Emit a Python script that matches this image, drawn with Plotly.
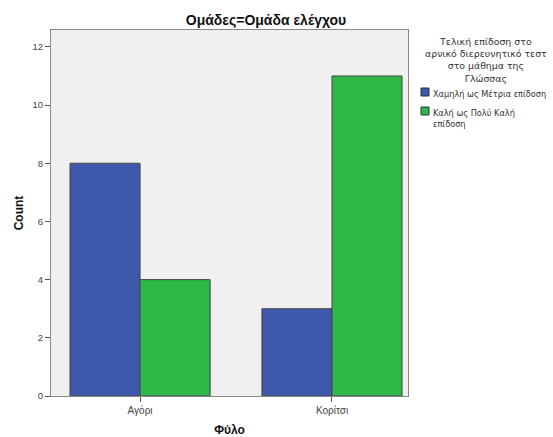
import plotly.graph_objects as go

categories = ["Αγόρι", "Κορίτσι"]
series_names = ["Χαμηλή ως Μέτρια επίδοση", "Καλή ως Πολύ Καλή<br>επίδοση"]
low_values = [8, 3]
high_values = [4, 11]
colors = ["#3e58ac", "#2eb848"]
y_ticks = [0, 2, 4, 6, 8, 10, 12]
legend_title = "Τελική επίδοση στο<br>αρνικό διερευνητικό τεστ<br>στο μάθημα της<br>Γλώσσας"

W, H = 553, 437
L, R, T, B = 51, 145, 30, 41
PW, PH = W - L - R, H - T - B


def px(x):
    return (x - L) / PW


def py(y):
    return (H - B - y) / PH


fig = go.Figure()
for name, vals, col in zip(series_names, [low_values, high_values], colors):
    fig.add_trace(go.Bar(
        x=categories, y=vals, name=name,
        marker=dict(color=col, line=dict(color="#444444", width=1)),
    ))

font_family = "Liberation Sans, Arial, sans-serif"
fig.update_layout(
    width=W, height=H,
    margin=dict(l=L, r=R, t=T, b=B, autoexpand=False),
    paper_bgcolor="white", plot_bgcolor="#f0f0f0",
    barmode="group", bargap=0.27, bargroupgap=0,
    font=dict(family=font_family, size=9, color="#444444"),
    title=dict(text="<b>Ομάδες=Ομάδα ελέγχου</b>", x=266 / W, xanchor="center",
               y=1 - 20 / H, yanchor="middle", font=dict(size=14, color="#111111")),
    showlegend=False,
    xaxis=dict(range=[-0.464, 1.396], showline=True, linecolor="#888888", linewidth=1,
               mirror=True, ticks="outside", ticklen=5, tickcolor="#555555",
               automargin=False,
               tickfont=dict(size=10, color="#444444"),
               title=dict(text="<b>Φύλο</b>", font=dict(size=12, color="#111111"), standoff=10)),
    yaxis=dict(range=[0, 12.58], tickvals=y_ticks, showline=True, linecolor="#888888",
               linewidth=1, mirror=True, showgrid=False, zeroline=False,
               ticks="outside", ticklen=5, tickcolor="#555555", automargin=False,
               tickfont=dict(size=9.5, color="#444444"),
               title=dict(text="<b>Count</b>", font=dict(size=12, color="#111111"), standoff=6)),
)

# legend title
fig.add_annotation(
    text=legend_title, xref="paper", yref="paper", x=px(486), y=py(34),
    xanchor="center", yanchor="top", showarrow=False, align="center",
    font=dict(family="DejaVu Sans, sans-serif", size=9.4, color="#333333"),
)
# legend entries
entry_tops = [88, 107]
for name, col, top in zip(series_names, colors, entry_tops):
    fig.add_shape(type="rect", xref="paper", yref="paper",
                  x0=px(421), x1=px(429), y0=py(top), y1=py(top + 8),
                  fillcolor=col, line=dict(color="#333333", width=1))
    fig.add_annotation(
        text=name, xref="paper", yref="paper", x=px(431), y=py(top - 1),
        xanchor="left", yanchor="top", showarrow=False, align="left",
        font=dict(family="DejaVu Sans, sans-serif", size=8.2, color="#333333"),
    )

fig.write_html("out.html", config={"displayModeBar": False},
               post_script="document.body.style.margin='0';")
